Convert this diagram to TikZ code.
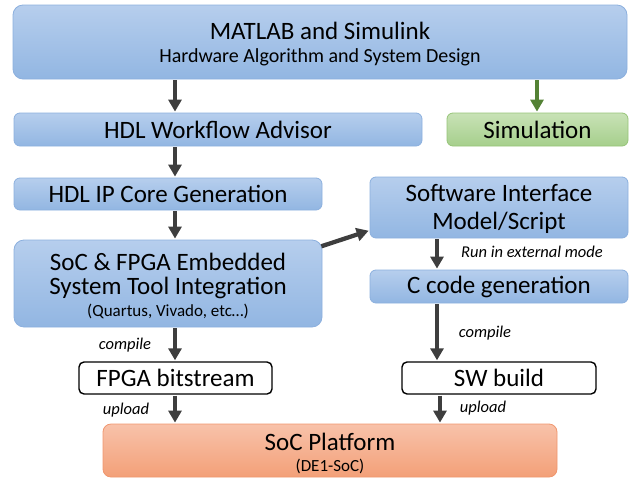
\documentclass[tikz,border=0pt]{standalone}
\usepackage{fontspec}
\setmainfont{Carlito}
\usetikzlibrary{arrows.meta}
\definecolor{bluetop}{RGB}{182,206,237}
\definecolor{bluebot}{RGB}{146,182,226}
\definecolor{blueborder}{RGB}{140,176,222}
\definecolor{greentop}{RGB}{200,226,182}
\definecolor{greenbot}{RGB}{166,207,140}
\definecolor{greenborder}{RGB}{150,196,120}
\definecolor{orangetop}{RGB}{248,194,170}
\definecolor{orangebot}{RGB}{243,160,120}
\definecolor{orangeborder}{RGB}{240,150,110}
\definecolor{arrowgray}{RGB}{62,62,62}
\definecolor{arrowgreen}{RGB}{84,130,53}
\tikzset{
  x=1pt, y=-1pt,
  boxbase/.style={rectangle, rounded corners=6pt, inner sep=0pt, line width=0.8pt},
  bluebox/.style={boxbase, draw=blueborder, top color=bluetop, bottom color=bluebot},
  greenbox/.style={boxbase, draw=greenborder, top color=greentop, bottom color=greenbot},
  orangebox/.style={boxbase, draw=orangeborder, top color=orangetop, bottom color=orangebot},
  whitebox/.style={rectangle, rounded corners=5pt, inner sep=0pt, draw=black, line width=1.4pt, fill=white},
  bigtxt/.style={font=\fontsize{25}{28}\selectfont, inner sep=0pt},
  midtxt/.style={font=\fontsize{20}{23}\selectfont, inner sep=0pt},
  smalltxt/.style={font=\fontsize{17}{19}\selectfont, inner sep=0pt},
  lbl/.style={font=\fontsize{16.5}{18}\selectfont\itshape, inner sep=0pt},
  arr/.style={draw=arrowgray, line width=4.3pt, -{Triangle[width=13pt,length=12pt]}, shorten >=1pt, shorten <=1pt},
  garr/.style={arr, draw=arrowgreen, fill=arrowgreen}
}
\begin{document}
\begin{tikzpicture}
\useasboundingbox (0,0) rectangle (638,483);
% boxes
\node[bluebox, rounded corners=10pt, minimum width=614pt, minimum height=74pt] (matlab) at (320,42) {};
\node[bigtxt] (matlabt) at (320,31) {MATLAB and Simulink};
\node[midtxt] (matlabs) at (320,57) {Hardware Algorithm and System Design};
\node[bluebox, minimum width=408pt, minimum height=33pt, bigtxt] (wa) at (218,129.5) {HDL Workflow Advisor};
\node[greenbox, minimum width=181pt, minimum height=33pt, bigtxt] (sim) at (537.5,129.5) {Simulation};
\node[bluebox, minimum width=308pt, minimum height=32pt, bigtxt] (ip) at (168,194) {HDL IP Core Generation};
\node[bluebox, minimum width=258pt, minimum height=61pt] (sw) at (499,207.5) {};
\node[bigtxt] (swt1) at (499,193) {Software Interface};
\node[bigtxt] (swt2) at (499,223) {Model/Script};
\node[bluebox, rounded corners=10pt, minimum width=308pt, minimum height=87pt] (fpga) at (168,283.5) {};
\node[bigtxt] (fpgat1) at (168,262) {SoC \& FPGA Embedded};
\node[bigtxt] (fpgat2) at (168,288) {System Tool Integration};
\node[smalltxt] (fpgat3) at (168,311) {(Quartus, Vivado, etc…)};
\node[bluebox, minimum width=258pt, minimum height=33pt, bigtxt] (cc) at (499,286.5) {C code generation};
\node[whitebox, minimum width=193pt, minimum height=32pt, bigtxt] (bit) at (175.5,378) {FPGA bitstream};
\node[whitebox, minimum width=194pt, minimum height=32pt, bigtxt] (swb) at (499,378) {SW build};
\node[orangebox, rounded corners=8pt, minimum width=454pt, minimum height=53pt] (plat) at (330,450.5) {};
\node[bigtxt] (platt1) at (330,442) {SoC Platform};
\node[smalltxt] (platt2) at (330,466) {(DE1-SoC)};
% arrow columns
\coordinate (cL) at (175,0);
\coordinate (cR) at (437,0);
\coordinate (cR2) at (440,0);
\coordinate (cS) at (537,0);
% arrows
\draw[arr] (cL |- matlab.south) -- (cL |- wa.north);
\draw[garr] (cS |- matlab.south) -- (cS |- sim.north);
\draw[arr] (cL |- wa.south) -- (cL |- ip.north);
\draw[arr] (cL |- ip.south) -- (cL |- fpga.north);
\draw[arr] ([xshift=-2pt,yshift=-7pt]fpga.north east) -- ([yshift=8pt]sw.south west);
\draw[arr] (cR |- sw.south) -- (cR |- cc.north);
\draw[arr] (cL |- fpga.south) -- (cL |- bit.north);
\draw[arr] (cR |- cc.south) -- (cR |- swb.north);
\draw[arr] (cL |- bit.south) -- (cL |- plat.north);
\draw[arr] (cR2 |- swb.south) -- (cR2 |- plat.north);
% labels
\node[lbl] (l1) at (532,252) {Run in external mode};
\node[lbl] (l2) at (125,345) {compile};
\node[lbl] (l3) at (485,333) {compile};
\node[lbl] (l4) at (126,410) {upload};
\node[lbl] (l5) at (483,408) {upload};
\end{tikzpicture}
\end{document}
